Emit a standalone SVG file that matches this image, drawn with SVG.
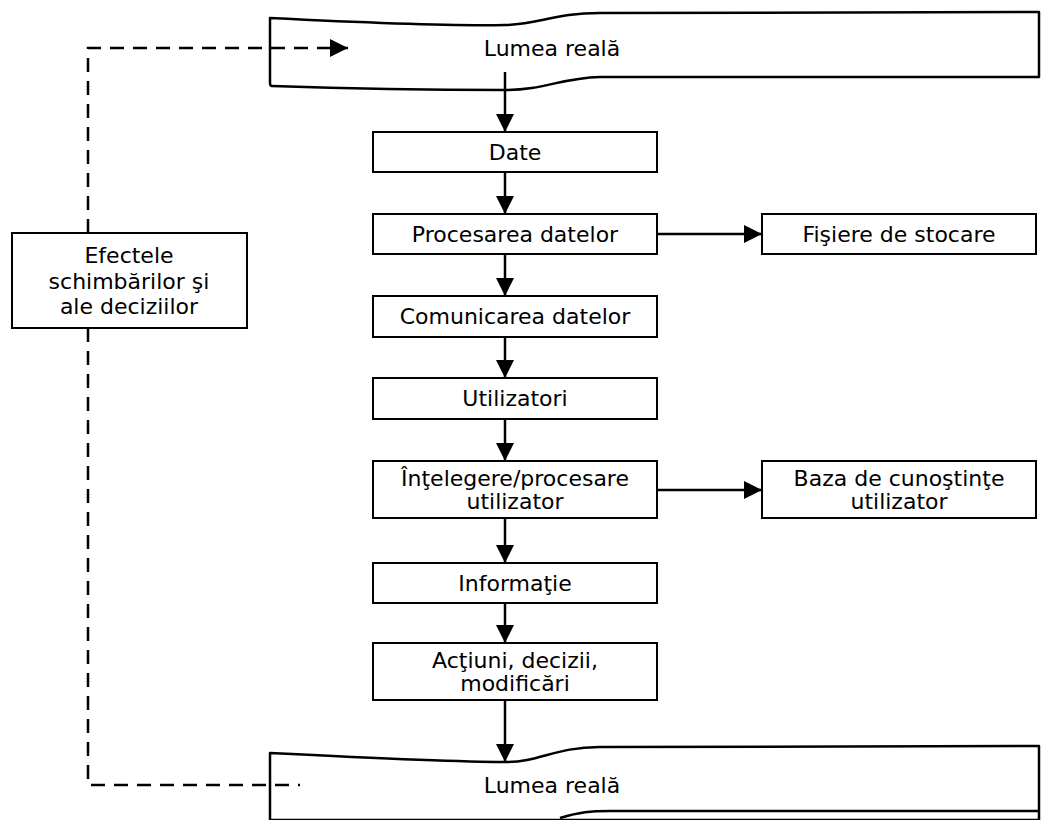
<svg xmlns="http://www.w3.org/2000/svg" width="1041" height="820" viewBox="0 0 1041 820">
<defs>
<style>
.box{fill:#fff;stroke:#000;stroke-width:2}
.wave{fill:#fff;stroke:#000;stroke-width:2.5;stroke-linejoin:round}
.t{font-family:"DejaVu Sans",Verdana,sans-serif;font-size:22px;fill:#000;text-anchor:middle}
.ln{fill:none;stroke:#000;stroke-width:2.5}
.dash{fill:none;stroke:#000;stroke-width:2.5;stroke-dasharray:14,9}
</style>
<marker id="ahb" viewBox="0 0 10 10" refX="10" refY="5" markerWidth="20" markerHeight="18" markerUnits="userSpaceOnUse" orient="auto">
<path d="M0,0 L10,5 L0,10 z" fill="#000"/>
</marker>
</defs>
<rect width="1041" height="820" fill="#fff"/>

<g id="lumea-top">
<path class="wave" d="M270,18 C350,22 450,26 505,25 C540,24 555,13 600,13 L1039,12 L1039,77 L600,77 C560,78 545,90 505,90 C430,90 330,88 272,86 Q270,86 270,83 Z"/>
<text class="t" x="552" y="56">Lumea reală</text>
</g>

<g id="date"><rect class="box" x="373" y="132" width="284" height="40"/><text class="t" x="515" y="160">Date</text></g>
<g id="procesarea"><rect class="box" x="373" y="214" width="284" height="40"/><text class="t" x="515" y="242">Procesarea datelor</text></g>
<g id="fisiere"><rect class="box" x="762" y="214" width="274" height="40"/><text class="t" x="899" y="242">Fişiere de stocare</text></g>
<g id="comunicarea"><rect class="box" x="373" y="296" width="284" height="41"/><text class="t" x="515" y="324">Comunicarea datelor</text></g>
<g id="utilizatori"><rect class="box" x="373" y="378" width="284" height="41"/><text class="t" x="515" y="406">Utilizatori</text></g>
<g id="intelegere"><rect class="box" x="373" y="461" width="284" height="57"/><text class="t" x="515" y="486">Înţelegere/procesare</text><text class="t" x="515" y="509">utilizator</text></g>
<g id="baza"><rect class="box" x="762" y="461" width="274" height="57"/><text class="t" x="899" y="486">Baza de cunoştinţe</text><text class="t" x="899" y="509">utilizator</text></g>
<g id="informatie"><rect class="box" x="373" y="563" width="284" height="40"/><text class="t" x="515" y="591">Informaţie</text></g>
<g id="actiuni"><rect class="box" x="373" y="643" width="284" height="57"/><text class="t" x="515" y="668">Acţiuni, decizii,</text><text class="t" x="515" y="691">modificări</text></g>
<g id="efectele"><rect class="box" x="12" y="233" width="235" height="95"/><text class="t" x="129" y="263">Efectele</text><text class="t" x="129" y="289">schimbărilor şi</text><text class="t" x="129" y="314">ale deciziilor</text></g>

<g id="lumea-bottom">
<path class="wave" d="M270,753 C350,757 450,762 505,762 C540,762 555,747 600,747 L1039,746 L1039,820 L270,820 Z"/>
<path class="ln" d="M560,818 C580,812 590,811 610,811 L1039,811"/>
<text class="t" x="552" y="793">Lumea reală</text>
</g>

<g id="connectors">
<line class="ln" x1="505" y1="72" x2="505" y2="132" marker-end="url(#ahb)"/>
<line class="ln" x1="505" y1="172" x2="505" y2="214" marker-end="url(#ahb)"/>
<line class="ln" x1="505" y1="254" x2="505" y2="296" marker-end="url(#ahb)"/>
<line class="ln" x1="505" y1="337" x2="505" y2="378" marker-end="url(#ahb)"/>
<line class="ln" x1="505" y1="419" x2="505" y2="461" marker-end="url(#ahb)"/>
<line class="ln" x1="505" y1="518" x2="505" y2="563" marker-end="url(#ahb)"/>
<line class="ln" x1="505" y1="603" x2="505" y2="643" marker-end="url(#ahb)"/>
<line class="ln" x1="505" y1="700" x2="505" y2="762" marker-end="url(#ahb)"/>
<line class="ln" x1="657" y1="234" x2="762" y2="234" marker-end="url(#ahb)"/>
<line class="ln" x1="657" y1="490" x2="762" y2="490" marker-end="url(#ahb)"/>
<polyline class="dash" points="88,233 88,48 348,48" marker-end="url(#ahb)"/>
<polyline class="dash" points="88,328 88,785 300,785"/>
</g>
</svg>
